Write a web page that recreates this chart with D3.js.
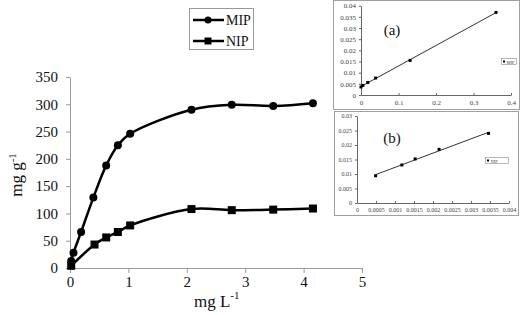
<!DOCTYPE html>
<html lang="en">
<head>
<meta charset="utf-8">
<style>
  body { margin: 0; background: #fff; }
  text { font-family: "Liberation Serif", serif; }
</style>
</head>
<body>
<script src="https://d3js.org/d3.v7.min.js"></script>
<div id="chart"></div>
<script>
// main isotherm data (C in mg/L, Q in mg/g)
var mipX = [0.02, 0.06, 0.19, 0.40, 0.62, 0.82, 1.03, 2.08, 2.77, 3.48, 4.16];
var mipY = [13, 28, 66, 129, 188, 225, 246, 290, 299, 297, 302];
var nipX = [0.02, 0.42, 0.62, 0.82, 1.03, 2.08, 2.77, 3.48, 4.16];
var nipY = [4, 43, 56, 66, 78, 108, 106, 107, 109];
var xTicks = [0, 1, 2, 3, 4, 5];
var yTicks = [0, 50, 100, 150, 200, 250, 300, 350];

// inset (a) MIP linear plot
var aX = [0.0, 0.005, 0.018, 0.039, 0.131, 0.36];
var aY = [0.0036, 0.0043, 0.0056, 0.0076, 0.0155, 0.037];
var aXTicks = [0, 0.1, 0.2, 0.3, 0.4];
var aYTicks = [0, 0.005, 0.01, 0.015, 0.02, 0.025, 0.03, 0.035, 0.04];

// inset (b) NIP linear plot
var bX = [0.00049, 0.00118, 0.00153, 0.00216, 0.00346];
var bY = [0.0094, 0.0131, 0.0152, 0.0185, 0.024];
var bXTicks = [0, 0.0005, 0.001, 0.0015, 0.002, 0.0025, 0.003, 0.0035, 0.004];
var bYTicks = [0, 0.005, 0.01, 0.015, 0.02, 0.025, 0.03];

var svg = d3.select("#chart").append("svg")
    .attr("width", 520).attr("height", 315);

// ---------- main chart ----------
var x = d3.scaleLinear().domain([0, 5]).range([70, 362]);
var y = d3.scaleLinear().domain([0, 350]).range([268, 77]);

var gx = svg.append("g").attr("transform", "translate(0,268)")
    .call(d3.axisBottom(x).tickValues(xTicks).tickFormat(d3.format("d")).tickSize(5).tickSizeOuter(0));
var gy = svg.append("g").attr("transform", "translate(70,0)")
    .call(d3.axisLeft(y).tickValues(yTicks).tickSize(4).tickSizeOuter(0).tickPadding(8));
[gx, gy].forEach(function (g) {
    g.selectAll("path, line").attr("stroke", "#9a9a9a");
    g.selectAll("text").attr("font-family", "Liberation Serif").attr("font-size", 15).attr("fill", "#111");
});

var line = d3.line().x(function (d) { return x(d[0]); }).y(function (d) { return y(d[1]); })
    .curve(d3.curveCatmullRom.alpha(0.5));
var mip = mipX.map(function (v, i) { return [v, mipY[i]]; });
var nip = nipX.map(function (v, i) { return [v, nipY[i]]; });

svg.append("path").datum(mip).attr("d", line)
    .attr("fill", "none").attr("stroke", "#000").attr("stroke-width", 2.5);
svg.append("path").datum(nip).attr("d", line)
    .attr("fill", "none").attr("stroke", "#000").attr("stroke-width", 2.5);

svg.selectAll(".mipdot").data(mip).enter().append("circle")
    .attr("cx", function (d) { return x(d[0]); }).attr("cy", function (d) { return y(d[1]); })
    .attr("r", 4).attr("fill", "#000");
svg.selectAll(".nipdot").data(nip).enter().append("rect")
    .attr("x", function (d) { return x(d[0]) - 4; }).attr("y", function (d) { return y(d[1]) - 4; })
    .attr("width", 8).attr("height", 8).attr("fill", "#000");

// axis titles
var yt = svg.append("text").attr("transform", "translate(22,175) rotate(-90)")
    .attr("text-anchor", "middle").attr("font-size", 17).attr("fill", "#111");
yt.append("tspan").text("mg g");
yt.append("tspan").attr("dy", -6).attr("font-size", 11).text("-1");

var xt = svg.append("text").attr("x", 194).attr("y", 307)
    .attr("font-size", 17).attr("fill", "#111");
xt.append("tspan").text("mg L");
xt.append("tspan").attr("dy", -8).attr("font-size", 11).text("-1");

// legend
var lg = svg.append("g");
lg.append("rect").attr("x", 189.5).attr("y", 8.5).attr("width", 64).attr("height", 41)
    .attr("fill", "#fff").attr("stroke", "#999");
lg.append("line").attr("x1", 193).attr("x2", 224).attr("y1", 20).attr("y2", 20).attr("stroke", "#000").attr("stroke-width", 2.5);
lg.append("circle").attr("cx", 208).attr("cy", 20).attr("r", 3.5).attr("fill", "#000");
lg.append("line").attr("x1", 193).attr("x2", 224).attr("y1", 41).attr("y2", 41).attr("stroke", "#000").attr("stroke-width", 2.5);
lg.append("rect").attr("x", 204.5).attr("y", 37.5).attr("width", 7).attr("height", 7).attr("fill", "#000");
lg.append("text").attr("x", 226).attr("y", 25).attr("font-family", "Liberation Mono").attr("font-size", 14).attr("fill", "#111").text("MIP");
lg.append("text").attr("x", 226).attr("y", 46).attr("font-family", "Liberation Mono").attr("font-size", 14).attr("fill", "#111").text("NIP");

// ---------- insets ----------
function inset(o) {
    var g = svg.append("g");
    g.append("rect").attr("x", o.frame[0] + 0.5).attr("y", o.frame[1] + 0.5)
        .attr("width", o.frame[2]).attr("height", o.frame[3])
        .attr("fill", "#fff").attr("stroke", "#a0a0a0");
    var sx = d3.scaleLinear().domain(o.xd).range(o.xr);
    var sy = d3.scaleLinear().domain(o.yd).range(o.yr);
    var ax = g.append("g").attr("transform", "translate(0," + o.yr[0] + ")")
        .call(d3.axisBottom(sx).tickValues(o.xt).tickFormat(function (d) { return d === 0 ? "0" : String(+d.toFixed(4)); })
            .tickSizeInner(-2).tickSizeOuter(0).tickPadding(5));
    var ay = g.append("g").attr("transform", "translate(" + o.xr[0] + ",0)")
        .call(d3.axisLeft(sy).tickValues(o.yt).tickFormat(function (d) { return d === 0 ? "0" : String(+d.toFixed(3)); })
            .tickSize(2).tickSizeOuter(0).tickPadding(3));
    [ax, ay].forEach(function (a) {
        a.selectAll("path, line").attr("stroke", "#666");
        a.selectAll("text").attr("font-size", o.fs).attr("fill", "#444");
    });
    // least squares trend line over data range
    var mx = d3.mean(o.dx), my = d3.mean(o.dy);
    var sxy = d3.sum(o.dx, function (v, i) { return (v - mx) * (o.dy[i] - my); });
    var sxx = d3.sum(o.dx, function (v) { return (v - mx) * (v - mx); });
    var k = sxy / sxx, b0 = my - k * mx;
    var x0 = d3.min(o.dx), x1 = d3.max(o.dx);
    g.append("line").attr("x1", sx(x0)).attr("y1", sy(k * x0 + b0))
        .attr("x2", sx(x1)).attr("y2", sy(k * x1 + b0))
        .attr("stroke", "#333").attr("stroke-width", 1);
    g.selectAll(".pt").data(o.dx).enter().append("rect")
        .attr("x", function (d) { return sx(d) - 1.5; })
        .attr("y", function (d, i) { return sy(o.dy[i]) - 1.5; })
        .attr("width", 3).attr("height", 3).attr("fill", "#000");
    g.append("text").attr("x", o.label[0]).attr("y", o.label[1]).attr("font-size", 15)
        .attr("text-anchor", "middle").attr("fill", "#111").text(o.name);
    // small legend
    g.append("rect").attr("x", o.leg[0] + 0.5).attr("y", o.leg[1] + 0.5).attr("width", o.leg[2]).attr("height", 6)
        .attr("fill", "#fff").attr("stroke", "#888").attr("stroke-width", 0.6);
    g.append("rect").attr("x", o.leg[0] + 2).attr("y", o.leg[1] + 2.5).attr("width", 2).attr("height", 2).attr("fill", "#000");
    g.append("text").attr("x", o.leg[0] + 5.5).attr("y", o.leg[1] + 5.5).attr("font-size", 4.5).attr("fill", "#444").text(o.series);
}

inset({
    frame: [333, 0, 186, 109], xd: [0, 0.4], xr: [361, 511], yd: [0, 0.04], yr: [95, 5.7],
    xt: aXTicks, yt: aYTicks, dx: aX, dy: aY, fs: 7, label: [392, 35], name: "(a)",
    leg: [501, 58, 15], series: "MIP"
});
inset({
    frame: [334, 111, 184, 104], xd: [0, 0.004], xr: [357, 509], yd: [0, 0.03], yr: [203, 116],
    xt: bXTicks, yt: bYTicks, dx: bX, dy: bY, fs: 6, label: [392, 143], name: "(b)",
    leg: [485, 157, 23], series: "NIP"
});
</script>
</body>
</html>
